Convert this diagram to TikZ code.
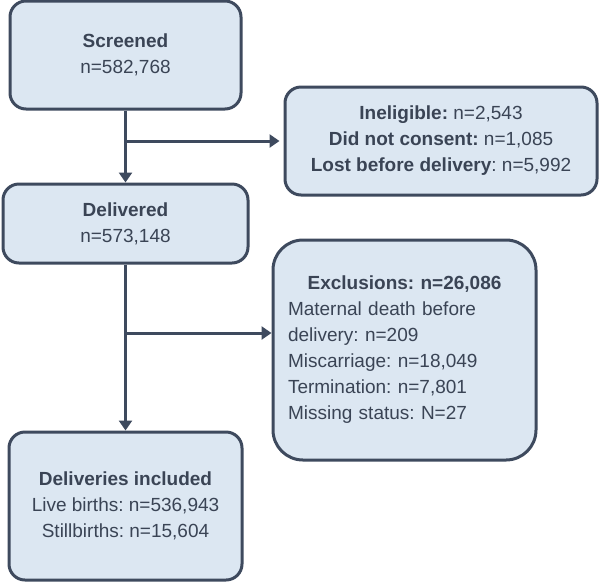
\documentclass[tikz,border=0pt]{standalone}
\usepackage{fontspec}
\setmainfont{Liberation Sans}
\usetikzlibrary{positioning, arrows.meta}
\definecolor{boxfill}{HTML}{DCE7F2}
\definecolor{boxline}{HTML}{3E4A5E}
\definecolor{boxtext}{HTML}{3A4455}
\newcommand{\BOXFONT}{\fontsize{19}{26}\selectfont\frenchspacing}

\tikzset{
    flowbox/.style={draw=boxline, fill=boxfill, line width=3pt, rounded corners=16pt,
            text=boxtext, font=\BOXFONT, align=center, inner sep=0pt},
    flowarrow/.style={draw=boxline, line width=3pt, -{Triangle[width=13pt, length=10pt]}},
    flowline/.style={draw=boxline, line width=3pt}
}

\begin{document}
\begin{tikzpicture}[x=1pt, y=-1pt]
    \useasboundingbox (0, 0) rectangle (599, 582);

    % main column
    \node[flowbox, minimum width=231, minimum height=108] (screened) at (125.5, 55)
        {\textbf{Screened}\\ n=582,768};
    \node[flowbox, minimum width=245, minimum height=79] (delivered) at (125.5, 223.5)
        {\textbf{Delivered}\\ n=573,148};
    \node[flowbox, minimum width=233, minimum height=148] (included) at (125.5, 506)
        {\textbf{Deliveries included}\\ Live births: n=536,943\\ Stillbirths: n=15,604};

    % side boxes
    \node[flowbox, minimum width=312, minimum height=108] (ineligible) at (441, 141)
        {\textbf{Ineligible:} n=2,543\\ \textbf{Did not consent:} n=1,085\\ \textbf{Lost before delivery}: n=5,992};
    \node[flowbox, rounded corners=30pt, minimum width=263, minimum height=220,
            text width=233, align=left] (exclusions) at (404.5, 350)
        {\makebox[233pt]{\textbf{Exclusions: n=26,086}}\\ Maternal death before\\ delivery: n=209\\
         Miscarriage: n=18,049\\ Termination: n=7,801\\ Missing status: N=27};

    % connectors
    \coordinate (split1) at (screened.south |- ineligible.west);
    \coordinate (side2) at ([yshift=17pt] exclusions.west);
    \coordinate (split2) at (delivered.south |- side2);

    \draw[flowarrow] (screened.south) -- (delivered.north);
    \draw[flowarrow] (split1) -- ([xshift=-4pt] ineligible.west);
    \draw[flowarrow] (delivered.south) -- (included.north);
    \draw[flowarrow] (split2) -- (side2);
\end{tikzpicture}
\end{document}
